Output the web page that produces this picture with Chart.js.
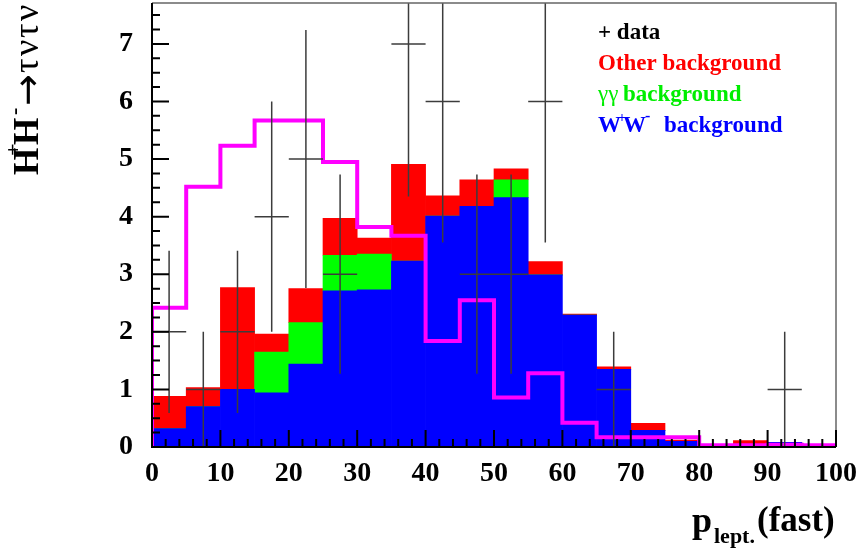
<!DOCTYPE html>
<html>
<head>
<meta charset="utf-8">
<script src="https://cdn.jsdelivr.net/npm/chart.js@4.4.0/dist/chart.umd.min.js"></script>
<style>
html, body { margin: 0; padding: 0; background: #fff; }
#wrap { width: 858px; height: 554px; }
</style>
</head>
<body>
<div id="wrap"><canvas id="plptChart" width="858" height="554"></canvas></div>
<script>
// p_lept.(fast) histogram, bins of 5
var binCenters = [2.5, 7.5, 12.5, 17.5, 22.5, 27.5, 32.5, 37.5, 42.5, 47.5, 52.5, 57.5, 62.5, 67.5, 72.5, 77.5, 82.5, 87.5, 92.5, 97.5];
var binWidth = 5;

// stacked backgrounds (bottom to top)
var wwBkg    = [0.32, 0.70, 1.00, 0.94, 1.44, 2.71, 2.73, 3.23, 4.01, 4.18, 4.33, 2.99, 2.29, 1.35, 0.29, 0.10, 0, 0, 0.08, 0];
var ggBkg    = [0, 0, 0, 0.71, 0.72, 0.62, 0.62, 0, 0, 0, 0.31, 0, 0, 0, 0, 0, 0, 0, 0, 0];
var otherBkg = [0.56, 0.33, 1.77, 0.31, 0.59, 0.64, 0.28, 1.68, 0.35, 0.46, 0.19, 0.23, 0.02, 0.04, 0.12, 0.02, 0, 0.11, 0, 0];

// H+H- -> tau nu tau nu signal
var signal = [2.42, 4.52, 5.23, 5.67, 5.67, 4.95, 3.82, 3.67, 1.84, 2.55, 0.86, 1.28, 0.42, 0.17, 0.17, 0.17, 0.03, 0.03, 0.04, 0.03];

// data with errors
var dataCounts = [2, 1, 2, 4, 5, 3, 0, 7, 6, 3, 3, 6, 0, 1, 0, 0, 0, 0, 1, 0];
var dataErr    = [1.41, 1, 1.41, 2, 2.24, 1.73, 0, 2.65, 2.45, 1.73, 1.73, 2.45, 0, 1, 0, 0, 0, 0, 1, 0];

var xTicks = [0, 10, 20, 30, 40, 50, 60, 70, 80, 90, 100];
var yTicks = [0, 1, 2, 3, 4, 5, 6, 7];

var serif = "'Liberation Serif', 'Times New Roman', serif";

function pts(arr) {
    return arr.map(function (v, i) { return { x: binCenters[i], y: v }; });
}

// step outline: points at bin low edges
var signalPts = [{ x: 0, y: 0 }];
signal.forEach(function (v, i) { signalPts.push({ x: binCenters[i] - binWidth / 2, y: v }); });
signalPts.push({ x: 100, y: signal[signal.length - 1] });

function drawRuns(ctx, runs) {
    runs.forEach(function (r) {
        ctx.font = r.font;
        ctx.fillStyle = r.color || '#000';
        ctx.fillText(r.text, r.x, r.y);
    });
}

var rootDecor = {
    id: 'rootDecor',
    afterDatasetsDraw: function (chart) {
        var ctx = chart.ctx, xs = chart.scales.x, ys = chart.scales.y, a = chart.chartArea;
        ctx.save();
        ctx.beginPath();
        ctx.rect(a.left, a.top, a.right - a.left, a.bottom - a.top);
        ctx.clip();
        ctx.strokeStyle = '#3c3c3c';
        ctx.lineWidth = 1.5;
        for (var i = 0; i < binCenters.length; i++) {
            if (dataCounts[i] <= 0) continue;
            var xc = xs.getPixelForValue(binCenters[i]);
            var x0 = xs.getPixelForValue(binCenters[i] - binWidth / 2);
            var x1 = xs.getPixelForValue(binCenters[i] + binWidth / 2);
            var yc = ys.getPixelForValue(dataCounts[i]);
            var yHi = ys.getPixelForValue(dataCounts[i] + dataErr[i]);
            var yLo = ys.getPixelForValue(dataCounts[i] - dataErr[i]);
            ctx.beginPath();
            ctx.moveTo(x0, yc); ctx.lineTo(x1, yc);
            ctx.moveTo(xc, yHi); ctx.lineTo(xc, yLo);
            ctx.stroke();
        }
        ctx.restore();
    },
    afterDraw: function (chart) {
        var ctx = chart.ctx, xs = chart.scales.x, ys = chart.scales.y, a = chart.chartArea;
        ctx.save();
        // frame
        ctx.strokeStyle = '#666';
        ctx.lineWidth = 1.5;
        ctx.beginPath();
        ctx.moveTo(a.left, a.top); ctx.lineTo(a.right, a.top); ctx.lineTo(a.right, a.bottom);
        ctx.stroke();
        ctx.strokeStyle = '#000';
        ctx.lineWidth = 2;
        ctx.beginPath();
        ctx.moveTo(a.left, a.top); ctx.lineTo(a.left, a.bottom); ctx.lineTo(a.right, a.bottom);
        ctx.stroke();

        // tick marks inside the frame
        ctx.lineWidth = 2;
        ctx.beginPath();
        for (var v = 0; v <= 7.7; v += 0.25) {
            var y = ys.getPixelForValue(v);
            var len = (Math.abs(v - Math.round(v)) < 1e-6) ? 17 : 8;
            ctx.moveTo(a.left, y); ctx.lineTo(a.left + len, y);
        }
        for (var u = 0; u <= 100; u += 2) {
            var x = xs.getPixelForValue(u);
            var l2 = (u % 10 === 0) ? 17 : 8;
            ctx.moveTo(x, a.bottom); ctx.lineTo(x, a.bottom - l2);
        }
        ctx.stroke();

        // legend text
        ctx.textAlign = 'left';
        ctx.textBaseline = 'alphabetic';
        var b23 = 'bold 23px ' + serif;
        drawRuns(ctx, [
            { text: '+ data', font: b23, color: '#000', x: 598, y: 39 },
            { text: 'Other background', font: b23, color: '#ff0000', x: 598, y: 70 },
            { text: '\u03b3\u03b3', font: '23px ' + serif, color: '#00ee00', x: 598, y: 101 },
            { text: 'background', font: b23, color: '#00ee00', x: 623, y: 101 },
            { text: 'W', font: b23, color: '#0000ff', x: 598, y: 132 },
            { text: '+', font: 'bold 14px ' + serif, color: '#0000ff', x: 618, y: 122 },
            { text: 'W', font: b23, color: '#0000ff', x: 623, y: 132 },
            { text: '-', font: 'bold 16px ' + serif, color: '#0000ff', x: 645, y: 121 },
            { text: 'background', font: b23, color: '#0000ff', x: 664, y: 132 }
        ]);

        // x title
        drawRuns(ctx, [
            { text: 'p', font: 'bold 36px ' + serif, x: 692, y: 532 },
            { text: 'lept.', font: 'bold 22px ' + serif, x: 714, y: 543 },
            { text: '(fast)', font: 'bold 35px ' + serif, x: 757, y: 531 }
        ]);

        // y title, rotated
        ctx.translate(38, 175);
        ctx.rotate(-Math.PI / 2);
        var g = '36px ' + serif;
        drawRuns(ctx, [
            { text: 'H', font: 'bold 35px ' + serif, x: 0, y: 0 },
            { text: '+', font: 'bold 22px ' + serif, x: 19, y: -18 },
            { text: 'H', font: 'bold 35px ' + serif, x: 30, y: 0 },
            { text: '-', font: 'bold 22px ' + serif, x: 60, y: -17 },
            { text: '\u2192', font: '38px DejaVu Sans', x: 69, y: 2 },
            { text: '\u03c4', font: g, x: 102, y: 0 },
            { text: '\u03bd', font: g, x: 119, y: 0 },
            { text: '\u03c4', font: g, x: 137, y: 0 },
            { text: '\u03bd', font: g, x: 154, y: 0 }
        ]);
        ctx.restore();
    }
};

var ctxP = document.getElementById('plptChart').getContext('2d');
var plptChart = new Chart(ctxP, {
    type: 'bar',
    data: {
        datasets: [
            {
                type: 'line',
                label: 'signal',
                data: signalPts,
                stepped: true,
                borderColor: '#ff00ff',
                borderWidth: 4,
                pointRadius: 0,
                fill: false,
                order: 0
            },
            {
                label: 'W+W- background',
                data: pts(wwBkg),
                backgroundColor: '#0000ff',
                borderWidth: 0,
                barPercentage: 1,
                categoryPercentage: 1,
                order: 1
            },
            {
                label: 'gamma gamma background',
                data: pts(ggBkg),
                backgroundColor: '#00ff00',
                borderWidth: 0,
                barPercentage: 1,
                categoryPercentage: 1,
                order: 2
            },
            {
                label: 'Other background',
                data: pts(otherBkg),
                backgroundColor: '#ff0000',
                borderWidth: 0,
                barPercentage: 1,
                categoryPercentage: 1,
                order: 3
            }
        ]
    },
    options: {
        responsive: false,
        animation: false,
        layout: { padding: { top: 3, right: 22, left: 0, bottom: 0 } },
        plugins: {
            legend: { display: false },
            tooltip: { enabled: false }
        },
        scales: {
            x: {
                type: 'linear',
                min: 0,
                max: 100,
                offset: false,
                stacked: true,
                grid: { display: false, drawTicks: false, offset: false },
                border: { display: false },
                ticks: {
                    color: '#000',
                    font: { family: serif, size: 28, weight: 'bold' },
                    padding: 10,
                    maxRotation: 0,
                    autoSkip: false
                },
                afterBuildTicks: function (s) { s.ticks = xTicks.map(function (v) { return { value: v }; }); },
                afterFit: function (s) { s.height = 107; s.paddingLeft = 0; s.paddingRight = 0; }
            },
            y: {
                min: 0,
                max: 7.71,
                stacked: true,
                grid: { display: false, drawTicks: false },
                border: { display: false },
                ticks: {
                    color: '#000',
                    font: { family: serif, size: 28, weight: 'bold' },
                    padding: 19
                },
                afterBuildTicks: function (s) { s.ticks = yTicks.map(function (v) { return { value: v }; }); },
                afterFit: function (s) { s.width = 152; s.paddingTop = 0; s.paddingBottom = 0; }
            }
        }
    },
    plugins: [rootDecor]
});
</script>
</body>
</html>
